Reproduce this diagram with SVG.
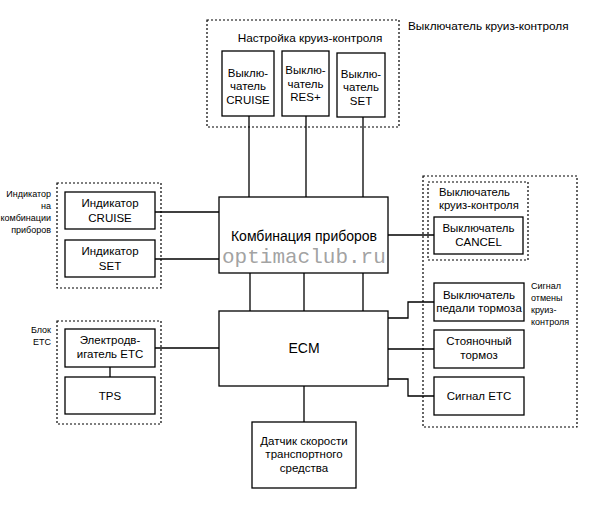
<svg xmlns="http://www.w3.org/2000/svg" width="614" height="506" viewBox="0 0 614 506">
<style>
.box{fill:#fff;stroke:#000;stroke-width:1.3}
.grp{fill:none;stroke:#000;stroke-width:1.2;stroke-dasharray:2 2}
.ln{fill:none;stroke:#000;stroke-width:1.3}
text{font-family:"Liberation Sans",Arial,sans-serif;fill:#000}
.t{font-size:11.5px;text-anchor:middle}
.s{font-size:9px}
.l{font-size:11.8px}
.big{font-size:14px;text-anchor:middle}
.wm{font-family:"Liberation Mono","DejaVu Sans Mono",monospace;font-size:21px;fill:#8a8a8a;fill-opacity:0.8}
</style>
<rect width="614" height="506" fill="#fff"/>

<g id="groups">
<rect class="grp" x="207" y="20" width="192" height="107"/>
<rect class="grp" x="57" y="183" width="104" height="105"/>
<rect class="grp" x="57" y="321" width="104" height="103"/>
<rect class="grp" x="423" y="176" width="154" height="251"/>
<rect class="grp" x="428" y="182" width="100" height="78"/>
</g>

<g id="labels">
<text class="l" x="408" y="30">Выключатель круиз-контроля</text>
<text class="l" x="310" y="42" text-anchor="middle">Настройка круиз-контроля</text>
<text class="s" x="51" y="197" text-anchor="end">Индикатор</text>
<text class="s" x="51" y="209" text-anchor="end">на</text>
<text class="s" x="51" y="221" text-anchor="end">комбинации</text>
<text class="s" x="51" y="233" text-anchor="end">приборов</text>
<text class="s" x="51" y="333" text-anchor="end">Блок</text>
<text class="s" x="51" y="345" text-anchor="end">ETC</text>
<text x="439" y="196" font-size="11.3">Выключатель</text>
<text x="439" y="209" font-size="11.3">круиз-контроля</text>
<text class="s" x="531" y="289">Сигнал</text>
<text class="s" x="531" y="301">отмены</text>
<text class="s" x="531" y="313">круиз-</text>
<text class="s" x="531" y="325">контроля</text>
</g>

<g id="connectors">
<line class="ln" x1="249" y1="116" x2="249" y2="197"/>
<line class="ln" x1="306" y1="116" x2="306" y2="197"/>
<line class="ln" x1="363" y1="117" x2="363" y2="197"/>
<line class="ln" x1="155" y1="212" x2="219" y2="212"/>
<line class="ln" x1="155" y1="259" x2="219" y2="259"/>
<line class="ln" x1="388" y1="235" x2="434" y2="235"/>
<line class="ln" x1="250" y1="273" x2="250" y2="311"/>
<line class="ln" x1="304" y1="273" x2="304" y2="311"/>
<line class="ln" x1="363" y1="273" x2="363" y2="311"/>
<line class="ln" x1="155" y1="348" x2="219" y2="348"/>
<line class="ln" x1="110" y1="367" x2="110" y2="377"/>
<polyline class="ln" points="388,318 408,318 408,302 434,302"/>
<line class="ln" x1="388" y1="349" x2="434" y2="349"/>
<polyline class="ln" points="388,379 408,379 408,396 434,396"/>
<line class="ln" x1="304" y1="386" x2="304" y2="422"/>
</g>

<g id="sw-cruise">
<rect class="box" x="222" y="51" width="52" height="65"/>
<text class="t" x="248" y="77">Выклю-</text>
<text class="t" x="248" y="90">чатель</text>
<text class="t" x="248" y="104">CRUISE</text>
</g>
<g id="sw-res">
<rect class="box" x="282" y="51" width="47" height="65"/>
<text class="t" x="305.5" y="74">Выклю-</text>
<text class="t" x="305.5" y="88">чатель</text>
<text class="t" x="305.5" y="101">RES+</text>
</g>
<g id="sw-set">
<rect class="box" x="337" y="53" width="48" height="64"/>
<text class="t" x="361" y="78">Выклю-</text>
<text class="t" x="361" y="91">чатель</text>
<text class="t" x="361" y="105">SET</text>
</g>

<g id="ind-cruise">
<rect class="box" x="65" y="192" width="90" height="37"/>
<text class="t" x="110" y="207">Индикатор</text>
<text class="t" x="110" y="222">CRUISE</text>
</g>
<g id="ind-set">
<rect class="box" x="65" y="240" width="90" height="37"/>
<text class="t" x="110" y="255">Индикатор</text>
<text class="t" x="110" y="270">SET</text>
</g>

<g id="cluster">
<rect class="box" x="219" y="197" width="169" height="76"/>
<text class="big" x="304" y="241">Комбинация приборов</text>
</g>

<g id="sw-cancel">
<rect class="box" x="434" y="217" width="89" height="37"/>
<text class="t" x="478.5" y="232">Выключатель</text>
<text class="t" x="478.5" y="246">CANCEL</text>
</g>

<g id="ecm">
<rect class="box" x="219" y="311" width="169" height="75"/>
<text class="big" x="304" y="353">ECM</text>
</g>

<g id="etc-motor">
<rect class="box" x="65" y="329" width="90" height="38"/>
<text class="t" x="110" y="344">Электродв-</text>
<text class="t" x="110" y="358">игатель ETC</text>
</g>
<g id="tps">
<rect class="box" x="65" y="377" width="90" height="37"/>
<text class="t" x="110" y="400">TPS</text>
</g>

<g id="brake-sw">
<rect class="box" x="434" y="283" width="90" height="38"/>
<text class="t" x="479" y="299" font-size="10.5">Выключатель</text>
<text class="t" x="479" y="312" font-size="10.5">педали тормоза</text>
</g>
<g id="parking">
<rect class="box" x="434" y="330" width="90" height="38"/>
<text class="t" x="479" y="345">Стояночный</text>
<text class="t" x="479" y="359">тормоз</text>
</g>
<g id="etc-signal">
<rect class="box" x="434" y="377" width="90" height="38"/>
<text class="t" x="479" y="400">Сигнал ETC</text>
</g>

<g id="speed">
<rect class="box" x="252" y="422" width="104" height="66"/>
<text class="t" x="304" y="445" font-size="11">Датчик скорости</text>
<text class="t" x="304" y="458" font-size="11">транспортного</text>
<text class="t" x="304" y="472" font-size="11">средства</text>
</g>

<text class="wm" x="222" y="263">optimaclub.ru</text>
</svg>
